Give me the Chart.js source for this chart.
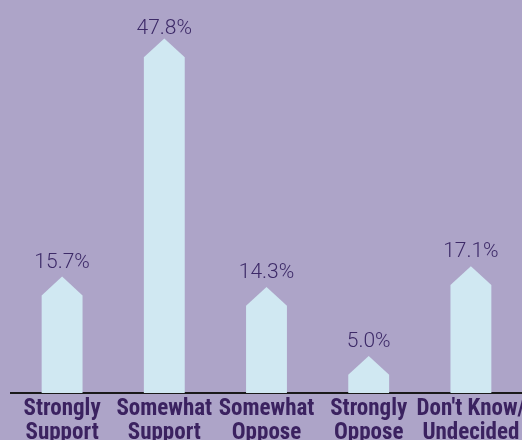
<!DOCTYPE html>
<html>
<head>
<meta charset="utf-8">
<script src="https://cdn.jsdelivr.net/npm/chart.js@4/dist/chart.umd.min.js"></script>
<style>
	html, body { margin: 0; padding: 0; background: #ada4c8; }
	#wrap { width: 522px; height: 440px; }
</style>
</head>
<body>
<div id="wrap"><canvas id="chart" width="522" height="440"></canvas></div>
<script>
var categories = [['Strongly', 'Support'], ['Somewhat', 'Support'], ['Somewhat', 'Oppose'], ['Strongly', 'Oppose'], ["Don't Know/", 'Undecided']];
var values = [15.7, 47.8, 14.3, 5.0, 17.1];

const BAR_COLOR = '#d0e8f2';
const TEXT_COLOR = '#3d2a68';

// draws each bar as a column with a pointed top, plus the value above it
const arrowBars = {
	id: 'arrowBars',
	afterDatasetsDraw(chart) {
		const ctx = chart.ctx;
		const meta = chart.getDatasetMeta(0);
		ctx.save();
		meta.data.forEach((bar, i) => {
			var half = bar.width / 2,
				tip = bar.y,
				shoulder = Math.min(tip + half * 0.92, bar.base);
			ctx.fillStyle = BAR_COLOR;
			ctx.beginPath();
			ctx.moveTo(bar.x - half, bar.base);
			ctx.lineTo(bar.x - half, shoulder);
			ctx.lineTo(bar.x, tip);
			ctx.lineTo(bar.x + half, shoulder);
			ctx.lineTo(bar.x + half, bar.base);
			ctx.closePath();
			ctx.fill();

			ctx.fillStyle = TEXT_COLOR;
			ctx.font = '300 21px Roboto';
			ctx.textAlign = 'center';
			ctx.textBaseline = 'alphabetic';
			// keep the top label inside the canvas
			var y = Math.max(tip - 9, 34);
			ctx.fillText(values[i].toFixed(1) + '%', bar.x, y);
		});
		ctx.restore();
	}
};

var chart = new Chart(document.getElementById('chart'), {
	type: 'bar',
	data: {
		labels: categories,
		datasets: [{
			data: values,
			backgroundColor: 'rgba(0,0,0,0)',
			barPercentage: 0.4,
			categoryPercentage: 1.0,
		}]
	},
	options: {
		responsive: false,
		animation: false,
		layout: {
			padding: {left: 11, right: 0, top: 0, bottom: 0}
		},
		scales: {
			x: {
				grid: {display: false},
				border: {display: true, color: '#1a1a1a', width: 2},
				ticks: {
					color: '#3b2260',
					font: {family: '"Roboto Condensed", "Liberation Sans Narrow", "DejaVu Sans Condensed", sans-serif', size: 23, weight: 'bold', lineHeight: 1.05},
					padding: -4,
					maxRotation: 0,
					autoSkip: false,
				},
				afterFit(scale) {
					scale.height = 47;
					// labels may run past the edges, like the original
					scale.paddingLeft = 0;
					scale.paddingRight = 0;
				}
			},
			y: {
				display: false,
				min: 0,
				max: 53,
			}
		},
		plugins: {
			legend: {display: false},
			tooltip: {enabled: false},
		},
	},
	plugins: [arrowBars],
});
</script>
</body>
</html>
